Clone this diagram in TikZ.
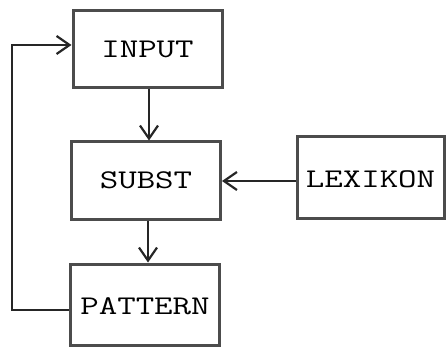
\documentclass[tikz,border=0pt]{standalone}
\usepackage{fontspec}
\usetikzlibrary{arrows.meta}
\newcommand\boxlabel[2][0pt]{\raisebox{#1}{\scalebox{1.33}[1]{#2}}}
\begin{document}
\begin{tikzpicture}[x=1pt,y=-1pt,
  box/.style={draw=black!70, line width=3pt, rectangle, minimum width=149pt,
    minimum height=77pt, inner sep=0pt, text=black, font=\ttfamily\fontsize{27}{29}\selectfont},
  conn/.style={draw=black!85, line width=2.5pt,
    -{Straight Barb[length=13pt,width=18pt,line width=2.2pt]}}]
\useasboundingbox (0,0) rectangle (446,347);
\node[box] (input) at (147.5,49.5) {\boxlabel{INPUT}};
\node[box] (subst) at (146,180.5) {\boxlabel{SUBST}};
\node[box, minimum height=81pt, text depth=0pt] (pattern) at (145,304.5) {\boxlabel[-2.5pt]{PATTERN}};
\node[box, minimum width=147pt, minimum height=81pt, text depth=0pt] (lex) at (370.5,177.5) {\boxlabel[-4pt]{LEXIKON}};
\draw[conn] ([xshift=1.5pt]input.south) -- ([xshift=1.5pt]input.south |- subst.north);
\draw[conn] ([xshift=2pt]subst.south) -- ([xshift=2pt]subst.south |- pattern.north);
\draw[conn] ([yshift=-3.5pt]lex.west) -- ([yshift=-3.5pt]lex.west -| subst.east);
\draw[conn] ([yshift=-5.5pt]pattern.west) -- ++(-57,0) |- ([yshift=4.5pt]input.west);
\end{tikzpicture}
\end{document}
